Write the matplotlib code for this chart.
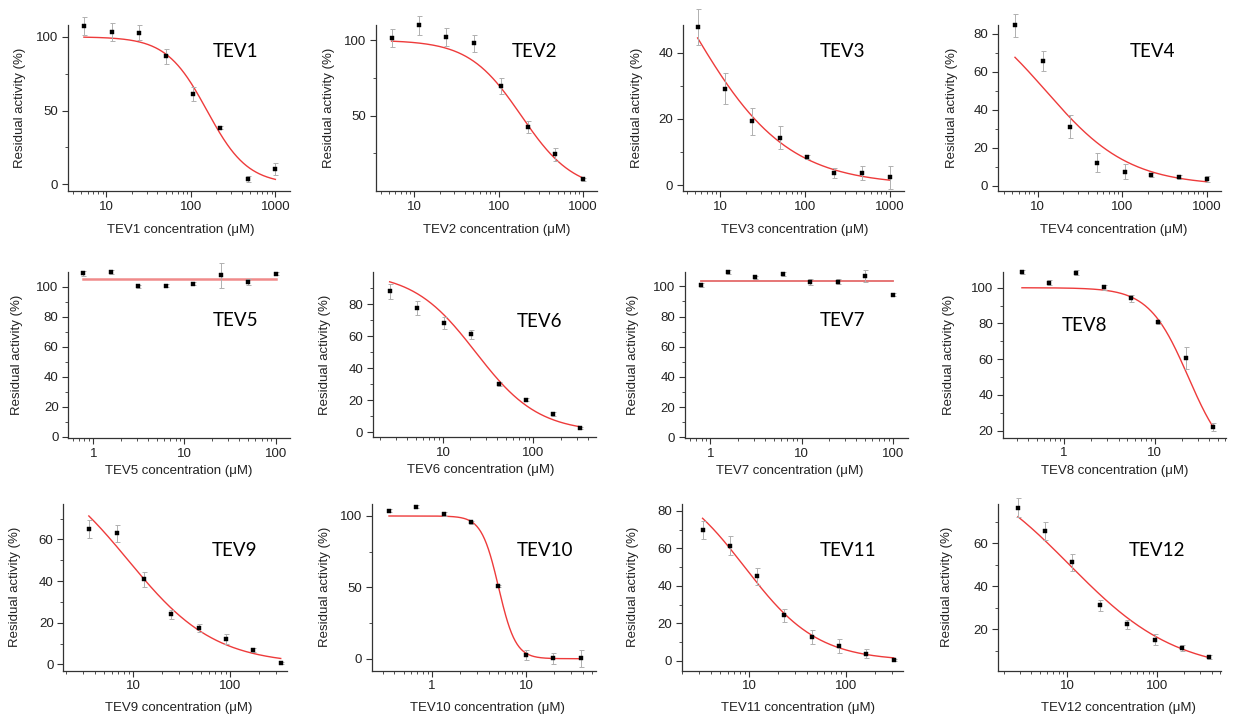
import matplotlib.pyplot as plt
import numpy as np
from matplotlib.ticker import FixedLocator, LogLocator, NullFormatter, FuncFormatter

plt.rcParams['font.family'] = ['Liberation Sans', 'DejaVu Sans']

# ---- data (concentration in uM, residual activity in %) ----
names = ['TEV1', 'TEV2', 'TEV3', 'TEV4', 'TEV5', 'TEV6',
         'TEV7', 'TEV8', 'TEV9', 'TEV10', 'TEV11', 'TEV12']

tev1_conc = [5.4, 11.5, 24, 51, 107, 222, 471, 1000]
tev1_act = [107.4, 103.2, 102.7, 86.9, 61.2, 38.4, 3.8, 10.2]
tev1_err = [6, 6, 5, 5, 4.5, 1, 2, 4]

tev2_conc = [5.4, 11.5, 24, 51, 107, 222, 471, 1000]
tev2_act = [101.5, 109.7, 101.8, 97.8, 69.6, 42.5, 24.2, 7.7]
tev2_err = [6, 6, 6, 5.5, 5, 4, 4, 1]

tev3_conc = [5.4, 11.5, 24, 51, 107, 222, 471, 1000]
tev3_act = [47.6, 29.1, 19.3, 14.4, 8.4, 3.7, 3.7, 2.4]
tev3_err = [5.4, 4.6, 4, 3.5, 0.6, 1.5, 2, 3.4]

tev4_conc = [5.4, 11.5, 24, 51, 107, 222, 471, 1000]
tev4_act = [84.5, 65.7, 31.1, 12.1, 7.4, 5.6, 4.6, 3.7]
tev4_err = [6, 5.5, 6, 5, 3.8, 1, 1, 1.5]

tev5_conc = [0.78, 1.56, 3.125, 6.25, 12.5, 25, 50, 100]
tev5_act = [109.1, 110.0, 100.4, 100.9, 102.0, 107.8, 103.1, 108.9]
tev5_err = [1.5, 1.5, 1, 1, 1, 8.3, 2, 1]

tev6_conc = [2.58, 5.16, 10.3, 20.6, 41.25, 82.5, 165, 330]
tev6_act = [87.9, 77.5, 68.2, 61.1, 30.1, 20.4, 11.4, 2.7]
tev6_err = [4.5, 4.5, 3.5, 3, 1, 1, 1, 0.8]

tev7_conc = [0.78, 1.56, 3.125, 6.25, 12.5, 25, 50, 100]
tev7_act = [100.9, 109.5, 106.0, 108.2, 103.1, 103.1, 106.8, 94.5]
tev7_err = [1, 1.5, 1, 1.5, 2, 1.5, 4, 1]

tev8_conc = [0.343, 0.686, 1.37, 2.74, 5.48, 10.9, 21.9, 43.9]
tev8_act = [108.8, 102.8, 108.4, 100.2, 94.0, 80.6, 60.7, 22.1]
tev8_err = [1, 1.5, 1.5, 1.5, 2, 1, 6, 2]

tev9_conc = [3.47, 6.73, 12.9, 24.7, 47.4, 90.2, 173, 334]
tev9_act = [65.0, 62.9, 41.0, 24.0, 17.6, 12.2, 6.9, 0.8]
tev9_err = [4.4, 4, 3.6, 2, 2, 2.5, 1, 0.5]

tev10_conc = [0.35, 0.68, 1.33, 2.61, 5.09, 10, 19.5, 38]
tev10_act = [103.7, 106.5, 101.2, 95.6, 50.9, 2.6, 0.2, 0.2]
tev10_err = [1, 1, 1.5, 1, 1, 3.5, 4, 6]

tev11_conc = [3.29, 6.31, 12.1, 23.2, 44.9, 85.3, 164, 314]
tev11_act = [69.9, 61.5, 45.2, 24.4, 12.8, 8.0, 3.9, 0.4]
tev11_err = [5, 5, 4.6, 3.5, 3.5, 3.5, 2.5, 0.5]

tev12_conc = [2.83, 5.65, 11.4, 23.1, 46.4, 93.3, 188, 378]
tev12_act = [76.6, 65.7, 51.2, 31.2, 22.3, 15.3, 11.3, 7.1]
tev12_err = [4.3, 4, 4, 2.5, 2, 2.5, 1.5, 1]

# dose-response fit parameters: top, bottom, IC50, Hill slope
tev1_fit = (100, 0, 155, 1.8)
tev2_fit = (100, 0, 185, 1.4)
tev3_fit = (100, 0, 4.0, 0.75)
tev4_fit = (100, 0, 12.5, 0.88)
tev5_fit = (105.1, 105.1, 1, 1)
tev6_fit = (100, 0, 23, 1.25)
tev7_fit = (103.3, 103.3, 1, 1)
tev8_fit = (100, 0, 23.5, 2.0)
tev9_fit = (100, 0, 8.85, 0.97)
tev10_fit = (100, 0, 5.1, 4.8)
tev11_fit = (100, 0, 9.0, 1.15)
tev12_fit = (100, 0, 10.6, 0.73)

concs = [tev1_conc, tev2_conc, tev3_conc, tev4_conc, tev5_conc, tev6_conc,
         tev7_conc, tev8_conc, tev9_conc, tev10_conc, tev11_conc, tev12_conc]
acts = [tev1_act, tev2_act, tev3_act, tev4_act, tev5_act, tev6_act,
        tev7_act, tev8_act, tev9_act, tev10_act, tev11_act, tev12_act]
errs = [tev1_err, tev2_err, tev3_err, tev4_err, tev5_err, tev6_err,
        tev7_err, tev8_err, tev9_err, tev10_err, tev11_err, tev12_err]
fits = [tev1_fit, tev2_fit, tev3_fit, tev4_fit, tev5_fit, tev6_fit,
        tev7_fit, tev8_fit, tev9_fit, tev10_fit, tev11_fit, tev12_fit]

# ---- layout (pixels of a 1233x721 canvas) ----
W, H = 1233, 721
boxes = [(68, 25, 290, 191), (375.7, 25, 597, 191), (682.7, 25, 904, 191), (998, 25, 1220.7, 191),
         (68.3, 272, 290, 438), (373, 272, 596, 437), (685, 272, 907.7, 438), (1003, 272, 1225.7, 437.7),
         (63.3, 504, 286.7, 670.7), (372, 504, 596, 670.7), (681.7, 504, 903, 670.7), (998, 504, 1220.7, 670.7)]
xlims = [(3.5, 1490), (3.5, 1465), (3.6, 1475), (3.4, 1466),
         (0.532, 143.6), (1.69, 491), (0.527, 146), (0.212, 60.7),
         (1.89, 385), (0.231, 55.2), (2.0, 392), (1.70, 506)]
ylims = [(-4.5, 108), (0, 110), (-1.7, 48.3), (-2.8, 84.7),
         (-0.7, 110), (-2.9, 100), (-0.4, 109.5), (16.1, 108.8),
         (-3, 77), (-8.4, 108.4), (-5.2, 83.7), (0.8, 78.3)]
yticks = [[0, 50, 100], [50, 100], [0, 20, 40], [0, 20, 40, 60, 80],
          [0, 20, 40, 60, 80, 100], [0, 20, 40, 60, 80], [0, 20, 40, 60, 80, 100], [20, 40, 60, 80, 100],
          [0, 20, 40, 60], [0, 50, 100], [0, 20, 40, 60, 80], [20, 40, 60]]
yminor = [[25, 75], [25, 75], [10, 30], [10, 30, 50, 70],
          [10, 30, 50, 70, 90], [10, 30, 50, 70, 90], [10, 30, 50, 70, 90], [30, 50, 70, 90],
          [10, 30, 50, 70], [25, 75], [10, 30, 50, 70], [10, 30, 50, 70]]
name_pos = [(0.65, 0.84), (0.617, 0.84), (0.62, 0.84), (0.59, 0.84),
            (0.65, 0.705), (0.643, 0.70), (0.606, 0.705), (0.266, 0.68),
            (0.666, 0.724), (0.644, 0.724), (0.625, 0.724), (0.589, 0.724)]
ylab_x = [-0.216, -0.212, -0.208, -0.205, -0.233, -0.214, -0.232, -0.242,
          -0.216, -0.211, -0.221, -0.23]
xlab_x = [0.51, 0.545, 0.504, 0.52, 0.496, 0.482, 0.472, 0.502, 0.515, 0.514, 0.527, 0.54]
xlab_y = [-0.235] * 4 + [-0.2] * 4 + [-0.222] * 4

ink = '#222222'
fig = plt.figure(figsize=(W / 100, H / 100), dpi=100)

for i in range(12):
    l, t, r, b = boxes[i]
    ax = fig.add_axes([l / W, 1 - b / H, (r - l) / W, (b - t) / H])
    ax.set_xscale('log')
    ax.set_xlim(*xlims[i])
    ax.set_ylim(*ylims[i])

    x = np.array(concs[i])
    top, bottom, ic50, slope = fits[i]
    xs = np.logspace(np.log10(x[0]), np.log10(x[-1]), 300)
    ys = bottom + (top - bottom) / (1 + (xs / ic50) ** slope)
    if i == 4:
        ax.plot(xs, ys, color='#f08a8a', lw=1.8, zorder=2)
    elif i == 6:
        ax.plot(xs, ys, color='#e46a6a', lw=1.3, zorder=2)
    else:
        ax.plot(xs, ys, color='#ee3b3b', lw=1.0, zorder=2)

    ax.errorbar(x, acts[i], yerr=errs[i], fmt='none', ecolor='#b0b0b0',
                elinewidth=0.7, capsize=1.8, capthick=0.7, zorder=3, clip_on=False)
    ax.plot(x, acts[i], 's', color='black', ms=3.4, mew=0.3, zorder=4, clip_on=False)

    for side in ['top', 'right']:
        ax.spines[side].set_visible(False)
    for side in ['left', 'bottom']:
        ax.spines[side].set_color('#333333')
        ax.spines[side].set_linewidth(0.9)

    ax.yaxis.set_major_locator(FixedLocator(yticks[i]))
    ax.yaxis.set_minor_locator(FixedLocator(yminor[i]))
    ax.xaxis.set_major_locator(LogLocator(base=10, numticks=10))
    ax.xaxis.set_minor_locator(LogLocator(base=10, subs=np.arange(2, 10), numticks=20))
    ax.xaxis.set_minor_formatter(NullFormatter())
    ax.xaxis.set_major_formatter(FuncFormatter(lambda v, p: '%g' % v))
    ax.tick_params(which='major', direction='out', length=4, width=0.8, color='#333333',
                   labelsize=9.5, labelcolor=ink, pad=3)
    ax.tick_params(which='minor', direction='out', length=2.3, width=0.6, color='#333333')

    ax.set_ylabel('Residual activity (%)', fontsize=9.5, color=ink)
    ax.yaxis.label.set_va('center')
    ax.yaxis.set_label_coords(ylab_x[i], 0.5)
    ax.set_xlabel(names[i] + ' concentration (\u03bcM)', fontsize=9.5, color=ink)
    ax.xaxis.label.set_va('center')
    ax.xaxis.set_label_coords(xlab_x[i], xlab_y[i])

    ax.text(name_pos[i][0], name_pos[i][1], names[i], transform=ax.transAxes,
            ha='left', va='center', fontsize=13.5, color='black', family=['Lato', 'DejaVu Sans'])

fig.savefig('out.png', dpi=100)
